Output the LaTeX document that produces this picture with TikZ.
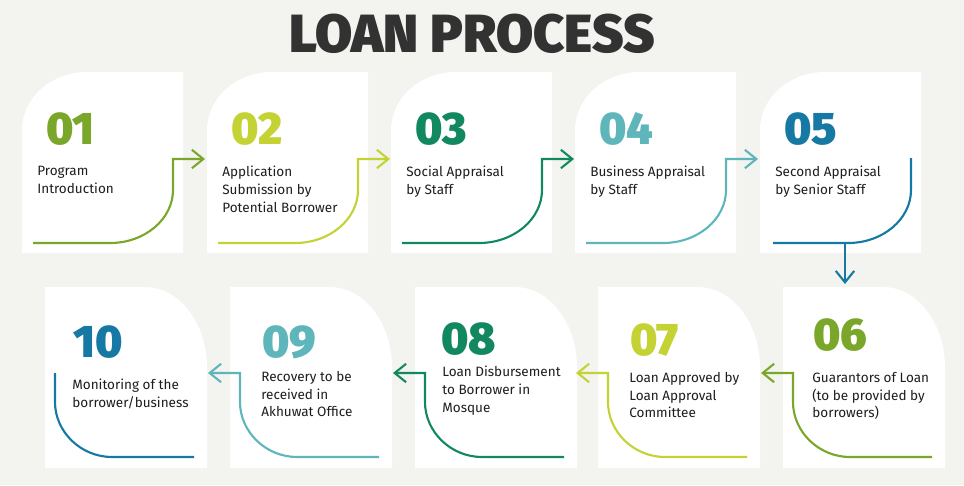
\documentclass[tikz,border=0pt]{standalone}
\usepackage{fontspec}
\setmainfont{Fira Sans}
\newfontfamily\heavyfont{Fira Sans Black}
\usetikzlibrary{arrows.meta}

\definecolor{bgcol}{RGB}{243,243,239}
\definecolor{loanolive}{RGB}{122,166,42}
\definecolor{loanlime}{RGB}{196,210,52}
\definecolor{loangreen}{RGB}{18,136,96}
\definecolor{loanteal}{RGB}{94,182,187}
\definecolor{loanblue}{RGB}{22,121,163}
\definecolor{titlecol}{RGB}{50,50,50}
\definecolor{textcol}{RGB}{30,30,30}

\begin{document}
\begin{tikzpicture}[x=0.02cm, y=-0.02cm,
    card/.style={fill=white},
    flow/.style={line width=1.2pt},
    tip/.style={-{Straight Barb[length=6.5pt,width=10.5pt]}},
    num/.style={anchor=base west, inner sep=0pt, font=\heavyfont\fontsize{26}{26}\selectfont},
    txt/.style={anchor=north west, inner sep=0pt, align=left, text=textcol, font=\fontsize{7.7}{10}\selectfont}]
      \fill[bgcol] (0,0) rectangle (964,485);
      \node[anchor=base, inner sep=0pt, text=titlecol, font=\heavyfont\fontsize{30.6}{30.6}\selectfont] (title) at (472,52) {LOAN PROCESS};

      % top row cards
      \fill[card] (22,253) -- (22,130) .. controls (22,98) and (51,72) .. (87,72) -- (183,72) -- (183,253) -- cycle;
      \fill[card] (207,253) -- (207,130) .. controls (207,98) and (236,72) .. (272,72) -- (368,72) -- (368,253) -- cycle;
      \fill[card] (391,253) -- (391,130) .. controls (391,98) and (420,72) .. (456,72) -- (552,72) -- (552,253) -- cycle;
      \fill[card] (575,253) -- (575,130) .. controls (575,98) and (604,72) .. (640,72) -- (736,72) -- (736,253) -- cycle;
      \fill[card] (760,253) -- (760,130) .. controls (760,98) and (789,72) .. (825,72) -- (921,72) -- (921,253) -- cycle;

      \draw[flow, loanolive, tip] (33,243) -- (110,243) .. controls (145,243) and (173,219) .. (173,190) -- (173,159) -- (205,159);
      \draw[flow, loanlime, tip] (218,243) -- (295,243) .. controls (330,243) and (358,219) .. (358,190) -- (358,159) -- (390,159);
      \draw[flow, loangreen, tip] (402,243) -- (479,243) .. controls (514,243) and (542,219) .. (542,190) -- (542,159) -- (574,159);
      \draw[flow, loanteal, tip] (586,243) -- (663,243) .. controls (698,243) and (726,219) .. (726,190) -- (726,159) -- (758,159);
      \draw[flow, loanblue] (773,243) -- (848,243) .. controls (883,243) and (911,219) .. (911,190) -- (911,158);
      \draw[flow, loanblue, tip] (845,243) -- (845,284);

      \node[num, text=loanolive] (n1) at (46,144) {01};
      \node[num, text=loanlime] (n2) at (231,144) {02};
      \node[num, text=loangreen] (n3) at (415,144) {03};
      \node[num, text=loanteal] (n4) at (599,144) {04};
      \node[num, text=loanblue] (n5) at (784,144) {05};
      \node[txt] (t1) at (37,166) {Program\\Introduction};
      \node[txt] (t2) at (222,166) {Application\\Submission by\\Potential Borrower};
      \node[txt] (t3) at (406,166) {Social Appraisal\\by Staff};
      \node[txt] (t4) at (590,166) {Business Appraisal\\by Staff};
      \node[txt] (t5) at (775,166) {Second Appraisal\\by Senior Staff};

      % bottom row cards
      \fill[card] (45,468) -- (45,287) -- (145,287) .. controls (179,287) and (207,323) .. (207,367) -- (207,468) -- cycle;
      \fill[card] (230,468) -- (230,287) -- (330,287) .. controls (364,287) and (392,323) .. (392,367) -- (392,468) -- cycle;
      \fill[card] (415,468) -- (415,287) -- (515,287) .. controls (549,287) and (577,323) .. (577,367) -- (577,468) -- cycle;
      \fill[card] (598,468) -- (598,287) -- (698,287) .. controls (732,287) and (760,323) .. (760,367) -- (760,468) -- cycle;
      \fill[card] (783,468) -- (783,287) -- (883,287) .. controls (917,287) and (945,323) .. (945,367) -- (945,468) -- cycle;

      \draw[flow, loanolive, tip] (932,457) -- (850,457) .. controls (819,457) and (793,432) .. (793,402) -- (793,373) -- (761,373);
      \draw[flow, loanlime, tip] (747,457) -- (665,457) .. controls (634,457) and (608,432) .. (608,402) -- (608,373) -- (576,373);
      \draw[flow, loangreen, tip] (564,457) -- (482,457) .. controls (451,457) and (425,432) .. (425,402) -- (425,373) -- (393,373);
      \draw[flow, loanteal, tip] (379,457) -- (297,457) .. controls (266,457) and (240,432) .. (240,402) -- (240,373) -- (208,373);
      \draw[flow, loanblue] (194,457) -- (112,457) .. controls (81,457) and (55,432) .. (55,402) -- (55,373);

      \node[num, text=loanolive] (n6) at (813,350) {06};
      \node[num, text=loanlime] (n7) at (630,355) {07};
      \node[num, text=loangreen] (n8) at (441,354) {08};
      \node[num, text=loanteal] (n9) at (262,357) {09};
      \node[num, text=loanblue] (n10) at (73,357) {10};
      \node[txt] (t6) at (812,372) {Guarantors of Loan\\(to be provided by\\borrowers)};
      \node[txt] (t7) at (629,372) {Loan Approved by\\Loan Approval\\Committee};
      \node[txt] (t8) at (442,366) {Loan Disbursement\\to Borrower in\\Mosque};
      \node[txt] (t9) at (261,371) {Recovery to be\\received in\\Akhuwat Office};
      \node[txt] (t10) at (72,379) {Monitoring of the\\borrower/business};

    \end{tikzpicture}
\end{document}
